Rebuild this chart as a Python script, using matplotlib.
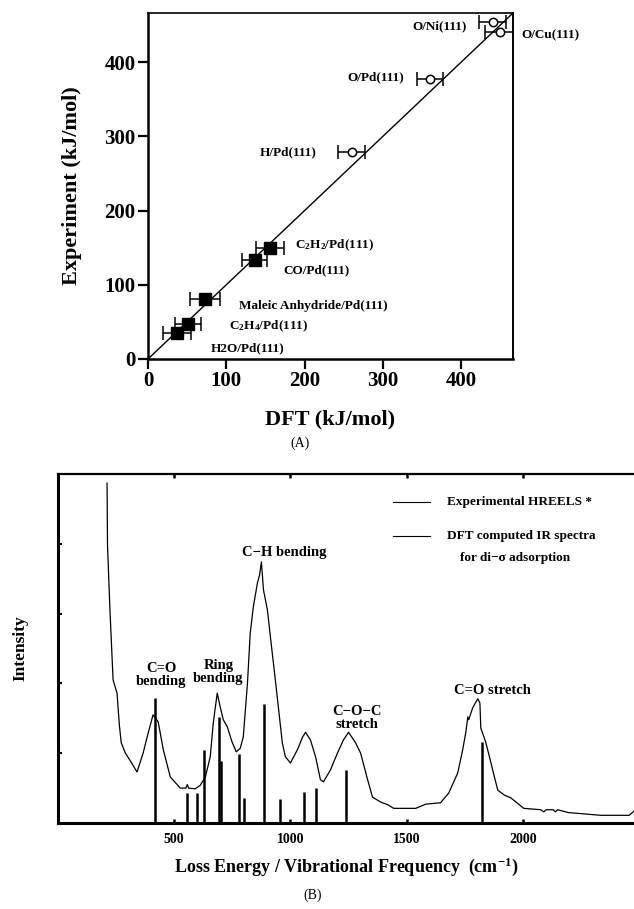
import matplotlib
matplotlib.use("Agg")
import matplotlib.pyplot as plt
import numpy as np

plt.rcParams['font.family'] = ['Liberation Serif', 'DejaVu Serif']
plt.rcParams['mathtext.fontset'] = 'custom'
plt.rcParams['mathtext.rm'] = 'Liberation Serif:bold'
plt.rcParams['mathtext.it'] = 'Liberation Serif:bold'
plt.rcParams['mathtext.bf'] = 'Liberation Serif:bold'

# ---------------- Panel A data ----------------
systems = ["O/Ni(111)", "O/Cu(111)", "O/Pd(111)", "H/Pd(111)",
           r"$\mathrm{C_2H_2}$/Pd(111)", "CO/Pd(111)", "Maleic Anhydride/Pd(111)",
           r"$\mathrm{C_2H_4}$/Pd(111)", "H2O/Pd(111)"]
dft = [440, 449, 360, 260, 156, 136, 73, 51, 37]
experiment = [454, 441, 377, 279, 149, 134, 81, 47, 35]
dft_err = [17, 19, 17, 17, 18, 16, 19, 17, 18]
open_marker = [True, True, True, True, False, False, False, False, False]
label_x = [338, 477, 255, 143, 188, 173, 116, 103, 80]
label_y = [448, 436, 379, 278, 153, 120, 71, 44, 14]
a_ticks = [0, 100, 200, 300, 400]
a_lim = 466

# ---------------- Panel B data ----------------
hreels_x = [211, 213, 224, 237, 254, 264, 272, 290, 315, 340, 366, 388, 409, 420, 431,
            453, 483, 526, 550, 556, 562, 590, 612, 634, 655, 668, 677, 685, 698, 711,
            728, 750, 767, 784, 797, 815, 827, 840, 858, 867, 875, 884, 901, 914, 935,
            948, 965, 978, 1000, 1030, 1052, 1065, 1086, 1108, 1129, 1142, 1172, 1202,
            1228, 1250, 1280, 1302, 1332, 1353, 1388, 1420, 1444, 1539, 1582, 1646,
            1681, 1720, 1741, 1754, 1763, 1767, 1784, 1806, 1815, 1819, 1840, 1862,
            1879, 1892, 1920, 1948, 2004, 2077, 2090, 2100, 2130, 2140, 2150, 2194,
            2336, 2457, 2478]
hreels_y = [4.87, 3.98, 3.01, 2.05, 1.86, 1.40, 1.15, 1.00, 0.87, 0.73, 1.00, 1.29, 1.55,
            1.50, 1.45, 1.05, 0.66, 0.50, 0.50, 0.55, 0.50, 0.49, 0.54, 0.66, 0.95, 1.43,
            1.66, 1.86, 1.66, 1.48, 1.38, 1.15, 1.02, 1.07, 1.23, 2.00, 2.72, 3.09, 3.44,
            3.55, 3.74, 3.34, 3.05, 2.66, 2.05, 1.66, 1.15, 0.95, 0.86, 1.05, 1.23, 1.30,
            1.19, 0.95, 0.62, 0.59, 0.76, 1.00, 1.19, 1.30, 1.15, 1.00, 0.62, 0.37, 0.30,
            0.26, 0.21, 0.21, 0.27, 0.29, 0.43, 0.72, 1.05, 1.29, 1.52, 1.48, 1.65, 1.78,
            1.72, 1.36, 1.16, 0.87, 0.64, 0.47, 0.40, 0.36, 0.21, 0.19, 0.16, 0.19, 0.19,
            0.16, 0.19, 0.15, 0.11, 0.11, 0.17]
dft_freq = [418, 553, 600, 626, 692, 702, 780, 799, 888, 957, 1057, 1108, 1240, 1823]
dft_int = [1.79, 0.43, 0.43, 1.05, 1.52, 0.89, 0.99, 0.36, 1.70, 0.34, 0.44, 0.50, 0.76, 1.16]
b_xticks = [500, 1000, 1500, 2000]
b_yticks = [1, 2, 3, 4]
mode_labels = ["C=O\nbending", "Ring\nbending", "C\u2212H bending", "C\u2212O\u2212C\nstretch", "C=O stretch"]
mode_x = [444, 690, 974, 1288, 1868]
mode_y = [2.12, 2.17, 3.88, 1.50, 1.90]
legend_labels = ["Experimental HREELS *", "DFT computed IR spectra", "for di\u2212\u03c3 adsorption"]

W, H = 634, 909
fig = plt.figure(figsize=(W / 100, H / 100), dpi=100)

# ================= Panel A =================
axA = fig.add_axes([148 / W, 1 - 359 / H, (513 - 148) / W, (359 - 13) / H])
axA.set_xlim(0, a_lim)
axA.set_ylim(0, a_lim)
axA.plot([0, a_lim], [0, a_lim], color='black', lw=1.0, zorder=2)
for i in range(len(systems)):
    if open_marker[i]:
        axA.errorbar(dft[i], experiment[i], xerr=dft_err[i], fmt='o', ms=6,
                     mfc='white', mec='black', mew=1.1, ecolor='black',
                     elinewidth=1.1, capsize=5, capthick=1.1, zorder=3)
    else:
        axA.errorbar(dft[i], experiment[i], xerr=dft_err[i], fmt='s', ms=8,
                     mfc='black', mec='black', ecolor='black',
                     elinewidth=1.1, capsize=5, capthick=1.1, zorder=3)
    axA.text(label_x[i], label_y[i], systems[i], fontsize=9.5, fontweight='bold',
             ha='left', va='center', clip_on=False)

axA.set_xticks(a_ticks)
axA.set_yticks(a_ticks)
axA.tick_params(direction='out', length=7, width=1.6, labelsize=15, pad=2)
for lab in axA.get_xticklabels() + axA.get_yticklabels():
    lab.set_fontweight('bold')
axA.spines['left'].set_linewidth(1.8)
axA.spines['bottom'].set_linewidth(1.8)
axA.spines['top'].set_linewidth(1.2)
axA.spines['right'].set_linewidth(1.4)
axA.set_xlabel("DFT (kJ/mol)", fontsize=16, fontweight='bold', labelpad=13)
axA.set_ylabel("Experiment (kJ/mol)", fontsize=16, fontweight='bold', labelpad=16)
fig.text(300 / W, 1 - 443 / H, "(A)", fontsize=10, ha='center', va='center')

# ================= Panel B =================
axB = fig.add_axes([58 / W, 1 - 823 / H, (W - 58) / W, (823 - 474) / H])
axB.set_xlim(0, 2478)
axB.set_ylim(0, 5)
axB.plot(hreels_x, hreels_y, color='black', lw=0.9)
axB.vlines(dft_freq, 0, dft_int, color='black', lw=1.8)
for t, x, y in zip(mode_labels, mode_x, mode_y):
    axB.text(x, y, t, fontsize=10.5, fontweight='bold', ha='center', va='center',
             linespacing=1.0)

axB.set_xticks(b_xticks)
axB.set_yticks(b_yticks)
axB.set_yticklabels([])
axB.tick_params(axis='x', direction='in', length=3, width=1.8, top=True,
                labelsize=10, pad=7)
axB.tick_params(axis='y', direction='in', length=3, width=1.5)
for lab in axB.get_xticklabels():
    lab.set_fontweight('bold')
axB.spines['right'].set_visible(False)
axB.spines['left'].set_linewidth(2.2)
axB.spines['bottom'].set_linewidth(2.2)
axB.spines['top'].set_linewidth(1.6)
axB.set_xlabel("Loss Energy / Vibrational Frequency  (cm$^{-1}$)", fontsize=13,
               fontweight='bold', labelpad=7)
axB.set_ylabel("Intensity", fontsize=12.5, fontweight='bold', labelpad=18)

# manual legend
axB.plot([0.582, 0.646], [0.920, 0.920], transform=axB.transAxes, color='black', lw=0.8)
axB.plot([0.582, 0.646], [0.822, 0.822], transform=axB.transAxes, color='black', lw=0.8)
axB.text(0.675, 0.920, legend_labels[0], transform=axB.transAxes, fontsize=9.5,
         fontweight='bold', ha='left', va='center')
axB.text(0.675, 0.822, legend_labels[1], transform=axB.transAxes, fontsize=9.5,
         fontweight='bold', ha='left', va='center')
axB.text(0.698, 0.759, legend_labels[2], transform=axB.transAxes, fontsize=9.5,
         fontweight='bold', ha='left', va='center')

fig.text(313 / W, 1 - 895 / H, "(B)", fontsize=10, ha='center', va='center')

fig.savefig("out.png", dpi=100)
